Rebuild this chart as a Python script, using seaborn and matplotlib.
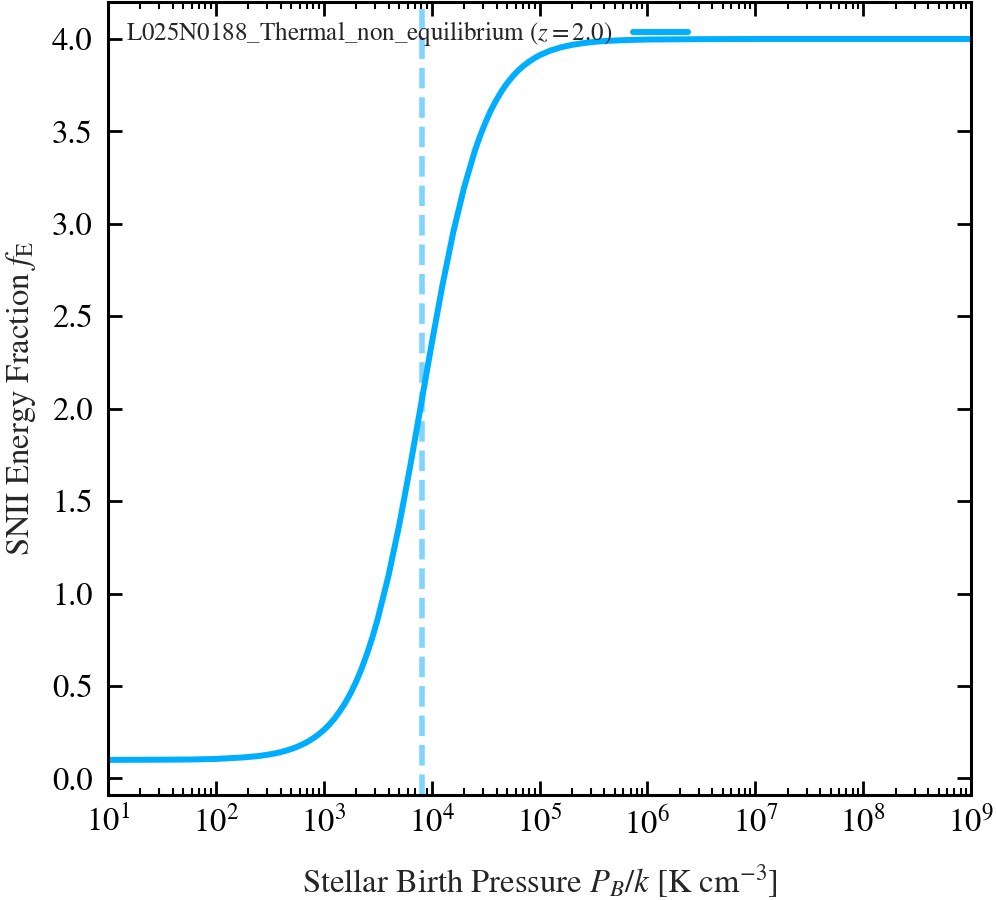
import numpy as np
import pandas as pd
import matplotlib
matplotlib.use("Agg")
import matplotlib.pyplot as plt
import seaborn as sns

# ---- data ----
log_pressure = [1.0, 1.5, 1.75, 2.0, 2.25, 2.4, 2.5, 2.55, 2.6, 2.65, 2.7, 2.75, 2.8,
                2.85, 2.9, 2.95, 3.0, 3.05, 3.1, 3.15, 3.2, 3.25, 3.3, 3.35, 3.4,
                3.45, 3.5, 3.6, 3.7, 3.8, 3.9, 4.0, 4.1, 4.2, 4.3, 4.4, 4.45, 4.5,
                4.55, 4.6, 4.65, 4.7, 4.75, 4.8, 4.85, 4.9, 4.95, 5.0, 5.1, 5.2,
                5.3, 5.4, 5.5, 5.6, 5.8, 6.0, 6.5, 7.0, 8.0, 9.0]
energy_fraction = [0.100, 0.101, 0.102, 0.105, 0.113, 0.121, 0.130, 0.135, 0.142,
                   0.150, 0.159, 0.170, 0.183, 0.198, 0.216, 0.237, 0.261, 0.290,
                   0.324, 0.364, 0.409, 0.462, 0.523, 0.592, 0.672, 0.761, 0.862,
                   1.096, 1.372, 1.684, 2.016, 2.350, 2.667, 2.953, 3.195, 3.394,
                   3.477, 3.550, 3.615, 3.670, 3.719, 3.761, 3.797, 3.828, 3.854,
                   3.876, 3.895, 3.912, 3.937, 3.955, 3.968, 3.977, 3.984, 3.989,
                   3.994, 3.997, 3.999, 4.000, 4.000, 4.000]
pivot_pressure = 8.1e3
series_label = r"L025N0188_Thermal_non_equilibrium ($z = 2.0$)"
x_ticks = [1e1, 1e2, 1e3, 1e4, 1e5, 1e6, 1e7, 1e8, 1e9]
y_ticks = [0.0, 0.5, 1.0, 1.5, 2.0, 2.5, 3.0, 3.5, 4.0]

df = pd.DataFrame({"P": [10 ** v for v in log_pressure], "fE": energy_fraction})

sns.set_theme(style="white")
plt.rcParams["font.family"] = ["STIXGeneral", "Liberation Serif", "DejaVu Serif"]
plt.rcParams["mathtext.fontset"] = "stix"

fig = plt.figure(figsize=(9.96, 9.0), dpi=100)
ax = fig.add_axes([108 / 996, 1 - 795 / 900, (971 - 108) / 996, (795 - 2) / 900])

main_color = "#00AEFF"
sns.lineplot(data=df, x="P", y="fE", ax=ax, color=main_color, lw=4.3,
             label=series_label, sort=False)
ax.axvline(pivot_pressure, color="#80D4FF", lw=4.0, ls="--", zorder=1)

ax.set_xscale("log")
ax.set_xlim(1e1, 1e9)
ax.set_ylim(-0.09, 4.2)
ax.set_xticks(x_ticks)
ax.set_yticks(y_ticks)
ax.set_yticklabels([f"{v:.1f}" for v in y_ticks])

ax.set_xlabel(r"Stellar Birth Pressure $P_B/k$ [K cm$^{-3}$]", fontsize=23.5, labelpad=16)
ax.set_ylabel(r"SNII Energy Fraction $f_{\rm E}$", fontsize=23.5, labelpad=10)

for s in ax.spines.values():
    s.set_linewidth(2.2)
    s.set_color("black")
ax.tick_params(which="both", direction="in", top=True, right=True, bottom=True, left=True,
               colors="black")
ax.tick_params(which="major", length=10, width=2.0, labelsize=23.5)
ax.tick_params(axis="x", which="major", pad=8)
ax.tick_params(axis="y", which="major", pad=11)
ax.tick_params(which="minor", length=5, width=1.5)
ax.tick_params(axis="y", which="minor", left=False, right=False)

ax.legend(loc="upper left", frameon=False, markerfirst=False, fontsize=18,
          handlelength=2.2, handletextpad=0.85, borderaxespad=0.3, borderpad=0.4)

fig.savefig("out.png", dpi=100)
